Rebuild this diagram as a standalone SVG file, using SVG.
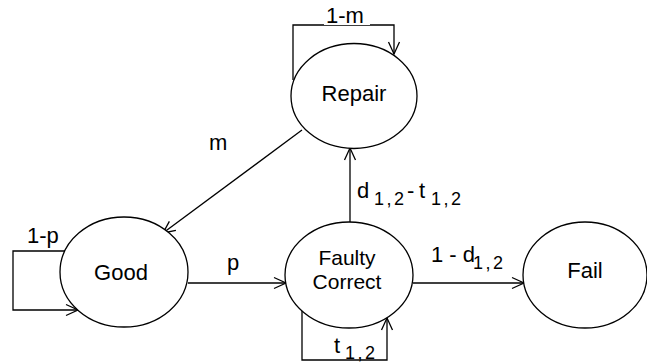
<svg xmlns="http://www.w3.org/2000/svg" width="647" height="364" viewBox="0 0 647 364">
<style>
.n{fill:#fff;stroke:#000;stroke-width:1.3}
.e{fill:none;stroke:#000;stroke-width:1.3}
.t{font-family:"Liberation Sans",Arial,sans-serif;font-size:22px;fill:#000}
.f{font-size:21px}
.l{font-family:"Liberation Sans",Arial,sans-serif;font-size:22px;fill:#000}
.s{font-size:18px;letter-spacing:2.5px}
.bg{fill:#fff}
</style>
<defs>
<marker id="a" markerUnits="userSpaceOnUse" markerWidth="16" markerHeight="14" refX="14" refY="7" orient="auto">
<path d="M2,1.5 L14,7 L2,12.5" fill="none" stroke="#000" stroke-width="1.3"/>
</marker>
</defs>
<g id="connectors">
<path class="e" d="M293,80 V25 H394 V54" marker-end="url(#a)"/>
<path class="e" d="M302,130 L163,233" marker-end="url(#a)"/>
<path class="e" d="M350,222 V148" marker-end="url(#a)"/>
<path class="e" d="M65,251 H13 V310 H78" marker-end="url(#a)"/>
<path class="e" d="M188,283 H286" marker-end="url(#a)"/>
<path class="e" d="M413,283 H524" marker-end="url(#a)"/>
<path class="e" d="M302,311 V360 H387 V318" marker-end="url(#a)"/>
<rect class="bg" x="324" y="7" width="46" height="18"/>
<text class="l" x="326" y="23">1-m</text>
<text class="l" x="209" y="150">m</text>
<text class="l" x="27" y="243">1-p</text>
<text class="l" x="227" y="270">p</text>
<text class="l" x="357" y="198">d<tspan class="s" x="374" y="205">1,2</tspan><tspan x="407" y="198">-</tspan><tspan x="419" y="198">t</tspan><tspan class="s" x="431" y="205">1,2</tspan></text>
<text class="l" x="431" y="262">1 - d<tspan class="s" x="473" y="269">1,2</tspan></text>
<rect class="bg" x="333" y="338" width="44" height="21"/>
<text class="l" x="334" y="353">t<tspan class="s" x="345" y="359">1,2</tspan></text>
</g>
<g id="repair">
<ellipse class="n" cx="354" cy="96" rx="63" ry="52.5"/>
<text class="t" x="354" y="101" text-anchor="middle">Repair</text>
</g>
<g id="good">
<ellipse class="n" cx="124" cy="272" rx="64" ry="55"/>
<text class="t" x="121" y="280" text-anchor="middle">Good</text>
</g>
<g id="faulty">
<ellipse class="n" cx="349" cy="275" rx="64" ry="53"/>
<text class="t f" x="347" y="265" text-anchor="middle">Faulty</text>
<text class="t f" x="347" y="289" text-anchor="middle">Correct</text>
</g>
<g id="fail">
<ellipse class="n" cx="585" cy="275" rx="62" ry="53"/>
<text class="t" x="585" y="278" text-anchor="middle">Fail</text>
</g>
</svg>
